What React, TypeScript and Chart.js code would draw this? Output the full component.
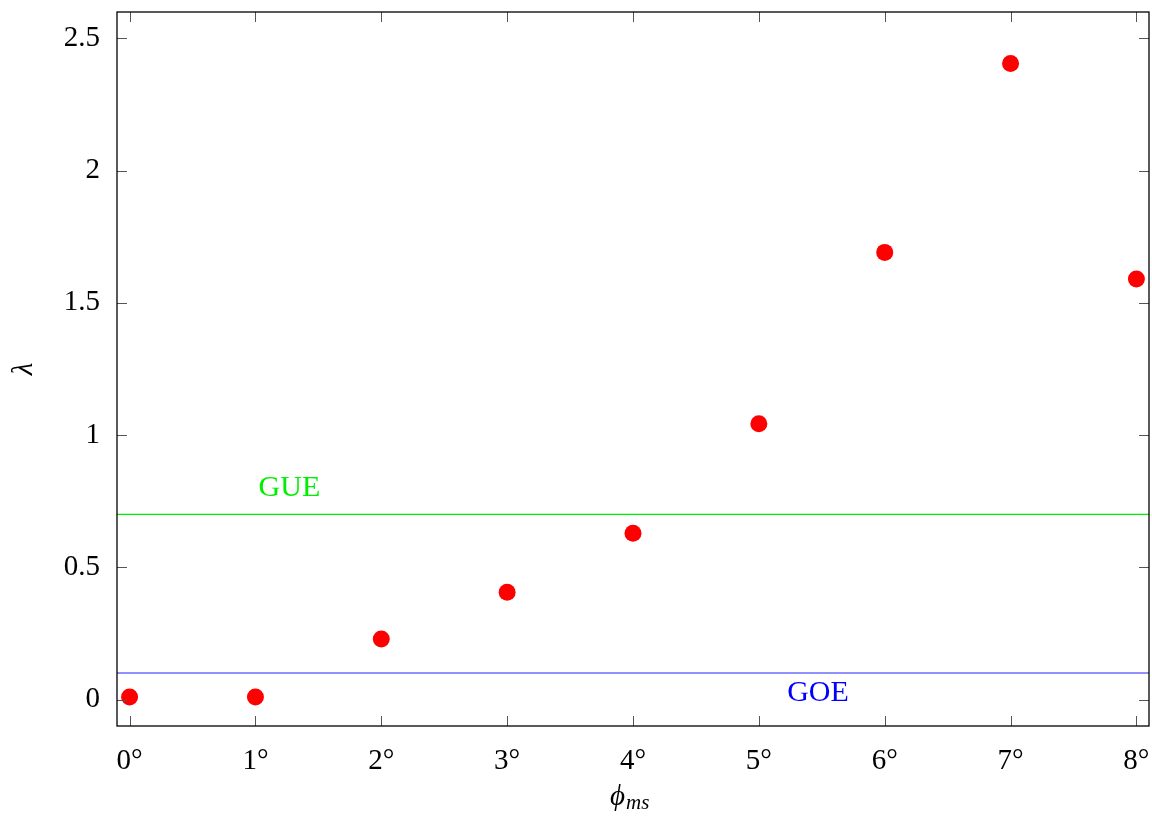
import React, { useEffect, useRef } from "react";
import { Chart, registerables } from "chart.js";

Chart.register(...registerables);

const angles = [0, 1, 2, 3, 4, 5, 6, 7, 8];
const lambdaValues = [0.01, 0.01, 0.229, 0.406, 0.629, 1.043, 1.691, 2.405, 1.59];
const xTicks = [0, 1, 2, 3, 4, 5, 6, 7, 8];
const yTicks = [0, 0.5, 1, 1.5, 2, 2.5];
const xRange = [-0.1, 8.1];
const yRange = [-0.1, 2.6];
const gueLevel = 0.7;
const goeLevel = 0.1;
const labels = [
  { text: "GUE", x: 1.27, y: 0.8, color: "#00ee00" },
  { text: "GOE", x: 5.47, y: 0.025, color: "#0000ff" },
];

const FONT = "'Liberation Serif', 'Times New Roman', serif";

const framePlugin = {
  id: "frameTicks",
  afterDatasetsDraw(chart: any) {
    const { ctx, chartArea, scales } = chart;
    const { left, right, top, bottom } = chartArea;
    ctx.save();
    ctx.strokeStyle = "#555555";
    ctx.lineWidth = 1;
    const L = 10;
    xTicks.forEach((v) => {
      const px = Math.round(scales.x.getPixelForValue(v)) + 0.5;
      ctx.beginPath();
      ctx.moveTo(px, bottom);
      ctx.lineTo(px, bottom - L);
      ctx.moveTo(px, top);
      ctx.lineTo(px, top + L);
      ctx.stroke();
    });
    yTicks.forEach((v) => {
      const py = Math.round(scales.y.getPixelForValue(v)) + 0.5;
      ctx.beginPath();
      ctx.moveTo(left, py);
      ctx.lineTo(left + L, py);
      ctx.moveTo(right, py);
      ctx.lineTo(right - L, py);
      ctx.stroke();
    });
    ctx.strokeStyle = "#000000";
    ctx.lineWidth = 1.3;
    ctx.strokeRect(left, top, right - left, bottom - top);

    ctx.font = `30px ${FONT}`;
    ctx.textAlign = "center";
    ctx.textBaseline = "middle";
    labels.forEach((l) => {
      ctx.fillStyle = l.color;
      ctx.fillText(l.text, scales.x.getPixelForValue(l.x), scales.y.getPixelForValue(l.y));
    });

    ctx.fillStyle = "#000000";
    ctx.textBaseline = "alphabetic";
    const cx = (left + right) / 2;
    ctx.font = `italic 29px ${FONT}`;
    ctx.textAlign = "right";
    ctx.fillText("\u03D5", cx - 8, 805);
    ctx.font = `italic 21px ${FONT}`;
    ctx.textAlign = "left";
    ctx.fillText("ms", cx - 7, 809);

    ctx.save();
    ctx.translate(32, (top + bottom) / 2);
    ctx.rotate(-Math.PI / 2);
    ctx.font = `italic 29px ${FONT}`;
    ctx.textAlign = "center";
    ctx.fillText("λ", 0, 0);
    ctx.restore();
    ctx.restore();
  },
};

export default function App() {
  const ref = useRef<HTMLCanvasElement>(null);
  useEffect(() => {
    if (!ref.current) return;
    const chart = new Chart(ref.current, {
      type: "scatter",
      data: {
        datasets: [
          {
            type: "line",
            data: [
              { x: xRange[0], y: gueLevel },
              { x: xRange[1], y: gueLevel },
            ],
            borderColor: "#00ee00",
            borderWidth: 1.2,
            pointRadius: 0,
          },
          {
            type: "line",
            data: [
              { x: xRange[0], y: goeLevel },
              { x: xRange[1], y: goeLevel },
            ],
            borderColor: "#6b6bff",
            borderWidth: 1.5,
            pointRadius: 0,
          },
          {
            type: "scatter",
            data: angles.map((a, i) => ({ x: a, y: lambdaValues[i] })),
            backgroundColor: "#ff0000",
            borderColor: "#ff0000",
            borderWidth: 0,
            pointRadius: 8.5,
          },
        ] as any,
      },
      options: {
        animation: false,
        responsive: false,
        maintainAspectRatio: false,
        layout: { autoPadding: false, padding: { top: 12, right: 3, left: 0, bottom: 0 } },
        plugins: { legend: { display: false }, tooltip: { enabled: false } },
        scales: {
          x: {
            type: "linear",
            min: xRange[0],
            max: xRange[1],
            grid: { display: false },
            border: { display: false },
            afterBuildTicks: (s: any) => {
              s.ticks = xTicks.map((v) => ({ value: v }));
            },
            afterFit: (s: any) => {
              s.height = 90;
              s.paddingLeft = 0;
              s.paddingRight = 0;
            },
            ticks: {
              color: "#000",
              padding: 10,
              maxRotation: 0,
              autoSkip: false,
              font: { family: FONT, size: 29 },
              callback: (v: any) => `${v}°`,
            },
          },
          y: {
            type: "linear",
            min: yRange[0],
            max: yRange[1],
            grid: { display: false },
            border: { display: false },
            afterBuildTicks: (s: any) => {
              s.ticks = yTicks.map((v) => ({ value: v }));
            },
            afterFit: (s: any) => {
              s.width = 117;
              s.paddingTop = 0;
              s.paddingBottom = 0;
            },
            ticks: {
              color: "#000",
              padding: 9,
              autoSkip: false,
              font: { family: FONT, size: 29 },
              callback: (v: any) => `${v}`,
            },
          },
        },
      },
      plugins: [framePlugin],
    });
    return () => chart.destroy();
  }, []);
  return (
    <div style={{ position: "absolute", left: 0, top: 0, width: 1152, height: 816, background: "#fff" }}>
      <canvas ref={ref} width={1152} height={816} style={{ width: 1152, height: 816 }} />
    </div>
  );
}
